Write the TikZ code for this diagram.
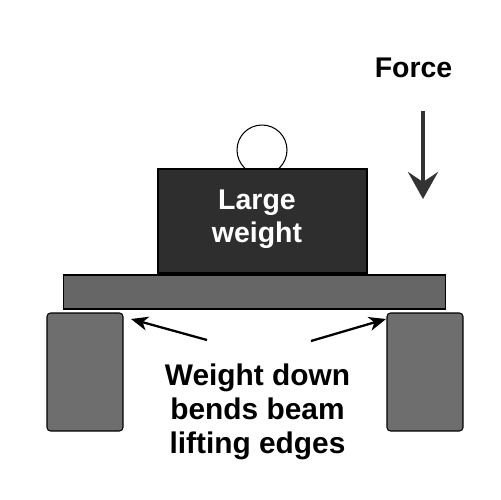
\documentclass[tikz,border=0pt]{standalone}
\usepackage{fontspec}
\setmainfont{Liberation Sans}
\usetikzlibrary{arrows.meta}
\definecolor{pesogris}{HTML}{2E2E2E}
\definecolor{vigagris}{HTML}{666666}
\definecolor{apoyogris}{HTML}{6E6E6E}
\definecolor{fuerzagris}{HTML}{333333}
\begin{document}
\begin{tikzpicture}[x=0.02cm,y=-0.02cm,
		texto/.style={font=\bfseries\fontsize{16.2}{18.7}\selectfont, align=center, inner sep=0pt},
		bloque/.style={draw=black, line width=0.6pt, inner sep=0pt},
		flecha/.style={-{Stealth[length=0.34cm,width=0.28cm,inset=0.1cm]}, line width=1.3pt}]
		% marco
		\useasboundingbox (0,0) rectangle (500,500);
		
		% bola
		\node[bloque, circle, fill=white, minimum size=1cm] (bola) at (262,150) {};
		
		% peso
		\node[bloque, fill=pesogris, minimum width=4.18cm, minimum height=2.08cm] (peso) at (262.5,221) {};
		\node[texto, text=white] (pesotexto) at (257,219) {Large\\weight};
		
		% viga
		\node[bloque, fill=vigagris, minimum width=7.66cm, minimum height=0.68cm] (viga) at (254.5,292) {};
		
		% apoyos
		\node[bloque, fill=apoyogris, rounded corners=2pt, minimum width=1.52cm, minimum height=2.36cm] (apoyoizq) at (85,372) {};
		\node[bloque, fill=apoyogris, rounded corners=2pt, minimum width=1.52cm, minimum height=2.36cm] (apoyoder) at (425,372) {};
		
		% fuerza
		\node[texto] (fuerza) at (413.5,68) {Force};
		\coordinate (fuerzaini) at (423,111);
		\coordinate (fuerzafin) at (423,199);
		\draw[-{Stealth[length=0.54cm,width=0.6cm,inset=0.2cm]}, line width=2.3pt, fuerzagris] (fuerzaini) -- (fuerzafin);
		
		% nota
		\node[texto, font=\bfseries\fontsize{17}{19.2}\selectfont] (nota) at (257.5,412) {Weight down\\bends beam\\lifting edges};
		\coordinate (notaizq) at (207,340);
		\coordinate (notader) at (311,341);
		\coordinate (puntaizq) at (131,319);
		\coordinate (puntader) at (386,319);
		\draw[flecha] (notaizq) -- (puntaizq);
		\draw[flecha] (notader) -- (puntader);
	\end{tikzpicture}
\end{document}
